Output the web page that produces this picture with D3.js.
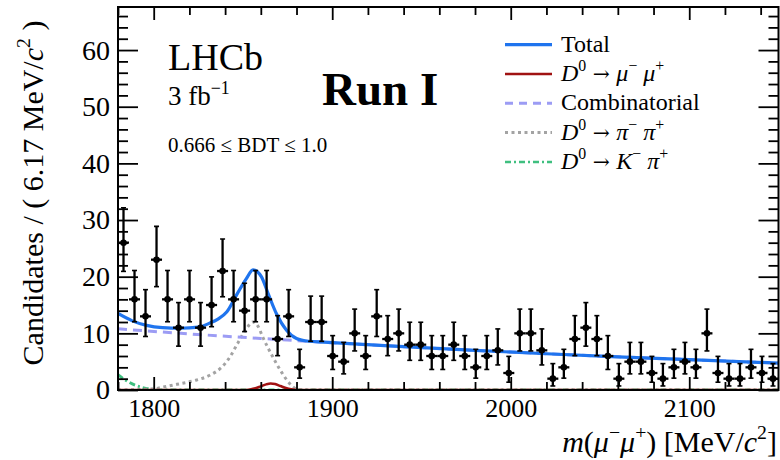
<!DOCTYPE html>
<html><head><meta charset="utf-8">
<script src="https://cdn.jsdelivr.net/npm/d3@7"></script>
<style>
html,body{margin:0;padding:0;background:#fff;}
svg{display:block;font-family:"Liberation Serif","Times New Roman",serif;}
</style></head>
<body><svg id="c" width="780" height="460"></svg>
<script>
// ---- data ----
const massRange = [1780, 2150];
const nBins = 60;
const counts = [26,16,13,23,16,11,16,11,15,21,16,14,16,16,9,13,4,12,12,6,
                5,10,6,13,9,10,8,8,6,6,8,6,4,6,7,3,10,10,7,2,
                4,9,11,9,6,2,5,5,3,2,4,5,4,10,3,2,2,4,3,2];
const xTicksMajor = [1800, 1900, 2000, 2100];
const yTicksMajor = [0, 10, 20, 30, 40, 50, 60];

const totalM   = [1780,1788,1796,1805,1815,1825,1831.4,1836,1841,1847,1852,1855.6,1860.3,1864,1868.7,1874.3,1880,1887,1895,1900,1940,1980,2020,2060,2100,2150];
const totalV   = [13.5,12.2,11.4,11.0,10.9,11.1,11.8,12.5,13.8,17.1,19.7,21.2,20.0,17.1,13.5,10.6,9.1,8.6,8.45,8.35,7.65,7.0,6.4,5.85,5.35,4.75];
const combM    = [1780,1820,1860,1900,1940,1980,2020,2060,2100,2150];
const combV    = [10.8,9.9,9.1,8.35,7.65,7.0,6.4,5.85,5.35,4.75];
const pipiM    = [1780,1800,1803.5,1813,1822,1831.4,1838,1842,1847,1851.9,1855.6,1858.5,1861,1866.6,1871.5,1876,1880,1884,2150];
const pipiV    = [0,0.2,0.4,1.0,1.6,2.6,4.0,5.5,8.2,10.8,12.0,11.2,9.4,5.9,3.2,1.2,0.2,0,0];
const kpiM     = [1780,1783,1786,1790,1795,1800,1806,2150];
const kpiV     = [2.7,2.0,1.4,0.8,0.35,0.1,0,0];
const sigM     = [1780,1850,1854,1857,1860,1863,1865.5,1868,1871,1874,1877,1881,2150];
const sigV     = [0,0,0.1,0.3,0.65,1.0,1.15,1.05,0.7,0.35,0.12,0,0];

// ---- layout ----
const svg = d3.select("#c");
const L = 118, R = 778.5, T = 7, B = 390;
const x = d3.scaleLinear().domain(massRange).range([L, R]);
const y = d3.scaleLinear().domain([0, 67.6]).range([B, T]);
const FONT = '"Liberation Serif","Times New Roman",serif';

const C = {
  total: "#1f74ee", sig: "#a01212", comb: "#9c9cf4", pipi: "#a3a3a3", kpi: "#3fbf7f"
};

svg.append("clipPath").attr("id","pc").append("rect")
  .attr("x",L).attr("y",T).attr("width",R-L).attr("height",B-T);

const plot = svg.append("g").attr("clip-path","url(#pc)");

function pts(ms, vs){ return ms.map((m,i)=>[m, vs[i]]); }
const line = d3.line().x(d=>x(d[0])).y(d=>y(d[1])).curve(d3.curveMonotoneX);

// components
plot.append("path").datum(pts(kpiM,kpiV)).attr("d",line).attr("fill","none")
  .attr("stroke",C.kpi).attr("stroke-width",2.8).attr("stroke-dasharray","6,3,2,3");
plot.append("path").datum(pts(pipiM,pipiV)).attr("d",line).attr("fill","none")
  .attr("stroke",C.pipi).attr("stroke-width",3).attr("stroke-dasharray","3,3.5");
plot.append("path").datum(pts(sigM,sigV)).attr("d",line).attr("fill","none")
  .attr("stroke",C.sig).attr("stroke-width",2.5);
plot.append("path").datum(pts(combM,combV)).attr("d",line).attr("fill","none")
  .attr("stroke",C.comb).attr("stroke-width",3).attr("stroke-dasharray","9,6");
plot.append("path").datum(pts(totalM,totalV)).attr("d",line).attr("fill","none")
  .attr("stroke",C.total).attr("stroke-width",3.2);

// data points with Poisson (Gehrels) error bars
const bw = (massRange[1]-massRange[0])/nBins;
const data = counts.map((n,i)=>{
  const c = massRange[0] + (i+0.5)*bw;
  const up = n + Math.sqrt(n+0.75) + 1;
  const lo = n>0 ? n*Math.pow(1 - 1/(9*n) - 1/(3*Math.sqrt(n)),3) : 0;
  return {c, n, up, lo};
});
const dg = plot.append("g").attr("stroke","#000").attr("stroke-width",2.3);
const pg = dg.selectAll("g.pt").data(data).join("g").attr("class","pt");
pg.append("line").attr("x1",d=>x(d.c)).attr("x2",d=>x(d.c))
  .attr("y1",d=>y(d.up)).attr("y2",d=>y(d.lo));
pg.append("line").attr("x1",d=>x(d.c-bw/2)).attr("x2",d=>x(d.c+bw/2))
  .attr("y1",d=>y(d.n)).attr("y2",d=>y(d.n));
pg.append("line").attr("x1",d=>x(d.c)-2.5).attr("x2",d=>x(d.c)+2.5)
  .attr("y1",d=>y(d.up)).attr("y2",d=>y(d.up)).attr("stroke-width",1.6);
pg.append("line").attr("x1",d=>x(d.c)-2.5).attr("x2",d=>x(d.c)+2.5)
  .attr("y1",d=>y(d.lo)).attr("y2",d=>y(d.lo)).attr("stroke-width",1.6);
pg.append("circle").attr("cx",d=>x(d.c)).attr("cy",d=>y(d.n)).attr("r",3.3)
  .attr("fill","#000").attr("stroke","none");

// axes
const xMinor = d3.range(massRange[0], massRange[1]+0.1, 20).filter(v=>!xTicksMajor.includes(v));
const yMinor = d3.range(0, 67, 2).filter(v=>!yTicksMajor.includes(v));
function styleAxis(g){ g.select(".domain").remove(); g.selectAll("line").attr("stroke","#000").attr("stroke-width",1.8); }

svg.append("g").attr("transform",`translate(0,${B})`)
  .call(d3.axisBottom(x).tickValues(xTicksMajor).tickSize(-13).tickPadding(8.5).tickFormat(d3.format("d")))
  .call(styleAxis)
  .call(g=>g.selectAll("text").attr("font-family",FONT).attr("font-size",26).attr("fill","#000"));
svg.append("g").attr("transform",`translate(0,${B})`)
  .call(d3.axisBottom(x).tickValues(xMinor).tickSize(-8).tickFormat(""))
  .call(styleAxis);
svg.append("g").attr("transform",`translate(0,${T})`)
  .call(d3.axisTop(x).tickValues(xTicksMajor).tickSize(-13).tickFormat(""))
  .call(styleAxis);
svg.append("g").attr("transform",`translate(0,${T})`)
  .call(d3.axisTop(x).tickValues(xMinor).tickSize(-8).tickFormat(""))
  .call(styleAxis);

svg.append("g").attr("transform",`translate(${L},0)`)
  .call(d3.axisLeft(y).tickValues(yTicksMajor).tickSize(-20).tickPadding(8))
  .call(styleAxis)
  .call(g=>g.selectAll("text").attr("font-family",FONT).attr("font-size",28).attr("fill","#000"));
svg.append("g").attr("transform",`translate(${L},0)`)
  .call(d3.axisLeft(y).tickValues(yMinor).tickSize(-10).tickFormat(""))
  .call(styleAxis);
svg.append("g").attr("transform",`translate(${R},0)`)
  .call(d3.axisRight(y).tickValues(yTicksMajor).tickSize(-20).tickFormat(""))
  .call(styleAxis);
svg.append("g").attr("transform",`translate(${R},0)`)
  .call(d3.axisRight(y).tickValues(yMinor).tickSize(-10).tickFormat(""))
  .call(styleAxis);

// frame
svg.append("rect").attr("x",L).attr("y",T).attr("width",R-L).attr("height",B-T)
  .attr("fill","none").attr("stroke","#000").attr("stroke-width",2);

// rich text helper
function rich(g, parts, size){
  let shifted = 0;
  parts.forEach(p=>{
    const ts = g.append("tspan").text(p.t);
    if (p.i) ts.attr("font-style","italic");
    if (p.f) ts.attr("font-family", p.f);
    if (p.sup){
      ts.attr("font-size", size*0.66);
      const target = -size*0.42;
      ts.attr("dy", target - shifted); shifted = target;
    } else {
      ts.attr("font-size", size*(p.s||1));
      if (shifted !== 0){ ts.attr("dy", -shifted); shifted = 0; }
    }
  });
}
function text(xp, yp, size, parts, opts={}){
  const t = svg.append("text").attr("x",xp).attr("y",yp).attr("font-family",FONT)
    .attr("font-size",size).attr("fill","#000");
  if (opts.anchor) t.attr("text-anchor",opts.anchor);
  if (opts.weight) t.attr("font-weight",opts.weight);
  if (opts.transform) t.attr("transform",opts.transform);
  rich(t, parts, size);
  return t;
}

// axis titles
text(0, 0, 30, [{t:"Candidates / ( 6.17 MeV/"},{t:"c",i:true},{t:"2",sup:true},{t:" )"}],
  {anchor:"middle", transform:"translate(43,193) rotate(-90)"});
text(777, 452, 30, [{t:"m",i:true},{t:"("},{t:"μ",i:true},{t:"−",sup:true},{t:"μ",i:true},{t:"+",sup:true},{t:")  [MeV/"},{t:"c",i:true},{t:"2",sup:true},{t:"]"}],
  {anchor:"end"});

// labels
text(168, 70, 38, [{t:"LHCb"}]);
text(168, 105, 27, [{t:"3 fb"},{t:"−1",sup:true}]);
text(168, 152, 21, [{t:"0.666 ≤ BDT ≤ 1.0"}]);
text(322, 105, 47, [{t:"Run I"}], {weight:"bold"});

// legend
const ARROW = {t:" → ", f:'"DejaVu Serif",serif', s:0.85};
const legend = [
  {parts:[{t:"Total"}], color:C.total, dash:null, w:3.2},
  {parts:[{t:"D",i:true},{t:"0",sup:true},ARROW,{t:"μ",i:true},{t:"−",sup:true},{t:" "},{t:"μ",i:true},{t:"+",sup:true}], color:C.sig, dash:null, w:2.5},
  {parts:[{t:"Combinatorial"}], color:C.comb, dash:"8,6", w:3},
  {parts:[{t:"D",i:true},{t:"0",sup:true},ARROW,{t:"π",i:true},{t:"−",sup:true},{t:" "},{t:"π",i:true},{t:"+",sup:true}], color:C.pipi, dash:"3,3.5", w:3},
  {parts:[{t:"D",i:true},{t:"0",sup:true},ARROW,{t:"K",i:true},{t:"−",sup:true},{t:" "},{t:"π",i:true},{t:"+",sup:true}], color:C.kpi, dash:"6,3,2,3", w:2.5}
];
legend.forEach((d,i)=>{
  const base = 51.7 + i*29.3;
  const ln = svg.append("line").attr("x1",505).attr("x2",552).attr("y1",base-7).attr("y2",base-7)
    .attr("stroke",d.color).attr("stroke-width",d.w);
  if (d.dash) ln.attr("stroke-dasharray",d.dash);
  text(561, base, 24, d.parts);
});
</script></body></html>
